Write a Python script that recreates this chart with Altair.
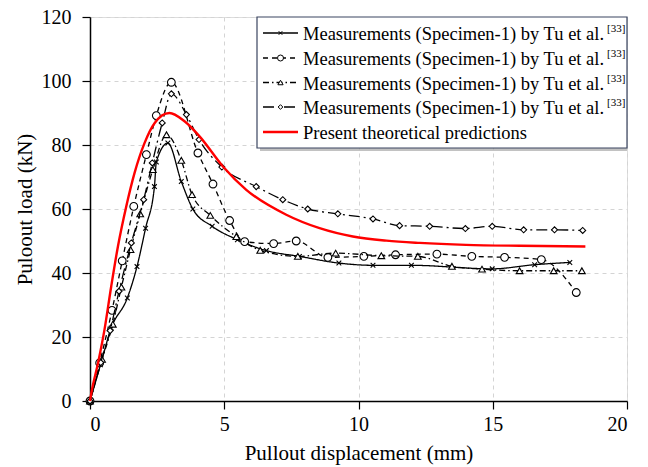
import altair as alt
import pandas as pd

# ---- data ----
s1_x = [0, 0.39, 0.79, 1.39, 1.75, 2.07, 2.4, 2.47, 2.9, 3.4, 3.83, 4.55, 5.49, 6.57, 7.8, 9.27, 10.54, 11.97, 14.98, 16.56, 17.87]
s1_y = [0, 11.3, 22.8, 32.2, 42, 54, 67, 74.7, 80.6, 68.6, 60, 54.6, 50.4, 47, 45.2, 43.1, 42.4, 42.4, 41.3, 42.6, 43.3]

s2_x = [0, 0.36, 0.82, 1.2, 1.63, 2.1, 2.47, 3.03, 4.02, 4.58, 5.2, 5.76, 6.84, 7.68, 8.86, 10.2, 11.38, 12.92, 14.22, 15.44, 16.81, 18.11]
s2_y = [0, 11.9, 28.3, 43.8, 60.8, 77, 89.2, 99.6, 77.5, 67.8, 56.4, 49.8, 49.2, 50, 44.9, 45.2, 45.7, 45.9, 45.2, 44.9, 44.2, 33.9]

s3_x = [0, 0.45, 0.85, 1.17, 1.51, 1.87, 2.34, 2.85, 3.4, 3.8, 4.48, 5.45, 6.34, 7.74, 9.15, 10.85, 12.21, 13.48, 14.6, 16.0, 17.27, 18.32]
s3_y = [0, 13, 24, 35.6, 47.3, 58.5, 72.3, 83.2, 75.2, 64.5, 58, 51.4, 47.1, 45.2, 46.2, 45.4, 45.2, 42.1, 41.2, 40.7, 40.7, 40.7]

s4_x = [0, 0.4, 0.75, 1.08, 1.54, 2.0, 2.32, 2.69, 3.03, 3.59, 4.06, 4.91, 6.19, 7.18, 8.11, 9.23, 10.54, 11.53, 12.65, 13.98, 14.98, 16.15, 17.3, 18.35]
s4_y = [0, 12, 22, 34.3, 49.4, 62.9, 74.4, 86.9, 96, 89.5, 81.7, 73.1, 67, 62.9, 60, 58.5, 56.9, 54.8, 54.6, 53.9, 54.6, 53.5, 53.5, 53.3]

th_x = [0, 0.05, 0.3, 0.54, 0.79, 1.04, 1.35, 1.66, 2.03, 2.41, 2.96, 3.52, 4.08, 4.95, 5.82, 7.31, 8.55, 9.79, 11.04, 12.28, 14.0, 16.0, 18.45]
th_y = [0, 2.5, 11.9, 22.3, 35.8, 48.3, 60.8, 71.3, 80.6, 86.9, 90, 87.4, 82.7, 73.3, 66, 58.2, 54, 51.4, 50.1, 49.4, 48.8, 48.5, 48.3]

x_ticks = [0, 5, 10, 15, 20]
y_ticks = [0, 20, 40, 60, 80, 100, 120]

meas_label = "Measurements (Specimen-1) by Tu et al."
sup_label = "[33]"
theory_label = "Present theoretical predictions"

FONT = "'Liberation Serif', 'Times New Roman', 'DejaVu Serif', serif"
W, H = 537, 384

xs = alt.Scale(domain=[0, 20], nice=False)
ys = alt.Scale(domain=[0, 120], nice=False)

X_SHAPE = "M-1,-1L1,1M-1,1L1,-1"


def series_layers(xv, yv, dash, shape, size, filled_white=True):
    df = pd.DataFrame({"x": xv, "y": yv})
    base = alt.Chart(df)
    line = base.mark_line(color="black", strokeWidth=1.3, strokeDash=dash,
                          interpolate="monotone").encode(
        x=alt.X("x:Q", scale=xs), y=alt.Y("y:Q", scale=ys))
    kw = dict(shape=shape, size=size, filled=False, stroke="black",
              strokeWidth=1.1, opacity=1)
    if filled_white:
        kw["fill"] = "white"
    pt = base.mark_point(**kw).encode(
        x=alt.X("x:Q", scale=xs), y=alt.Y("y:Q", scale=ys))
    return [line, pt]


axis_common = dict(grid=True, gridDash=[4, 4], gridColor="#d4d4d4", gridWidth=1,
                   domainColor="black", domainWidth=1.5, tickColor="black",
                   tickSize=8, tickWidth=1.2, labelFont=FONT, labelFontSize=20,
                   labelColor="black", titleFont=FONT, titleFontSize=21,
                   titleFontWeight="normal", titleColor="black")
axis_x = alt.Axis(values=x_ticks, title="Pullout displacement (mm)", titlePadding=8,
                  labelPadding=5, **axis_common)
axis_y = alt.Axis(values=y_ticks, title="Puloout load (kN)", titlePadding=6,
                  labelPadding=11, **axis_common)

grid_df = pd.DataFrame({"x": [0, 20], "y": [0, 120]})
axes_layer = alt.Chart(grid_df).mark_point(opacity=0).encode(
    x=alt.X("x:Q", scale=xs, axis=axis_x),
    y=alt.Y("y:Q", scale=ys, axis=axis_y))

layers = [axes_layer]
specs = [
    (s1_x, s1_y, [1, 0], X_SHAPE, 22, False),
    (s2_x, s2_y, [5, 4], "circle", 60, True),
    (s3_x, s3_y, [6, 3, 1.5, 3], "triangle-up", 45, True),
    (s4_x, s4_y, [11, 4, 2, 4], "diamond", 36, True),
]
for sx, sy, dash, shape, size, fw in specs:
    layers += series_layers(sx, sy, dash, shape, size, fw)

th_df = pd.DataFrame({"x": th_x, "y": th_y})
layers.append(alt.Chart(th_df).mark_line(color="#ff0000", strokeWidth=2.4,
                                          interpolate="monotone").encode(
    x=alt.X("x:Q", scale=xs), y=alt.Y("y:Q", scale=ys)))

# ---- manual legend ----
one = pd.DataFrame({"k": [0]})
LX0, LX1, LY0, LY1 = 167, 537, 0, 131
layers.append(alt.Chart(one).mark_rect(fill="#9a9a9a", opacity=0.6).encode(
    x=alt.value(LX0 + 3), x2=alt.value(LX1), y=alt.value(LY1), y2=alt.value(LY1 + 3)))
layers.append(alt.Chart(one).mark_rect(fill="white", stroke="#3a4560", strokeWidth=1.2).encode(
    x=alt.value(LX0), x2=alt.value(LX1), y=alt.value(LY0), y2=alt.value(LY1)))

row_y = [16, 41, 65.5, 90, 115]
labels = [meas_label] * 4 + [theory_label]
for i, (sx, sy, dash, shape, size, fw) in enumerate(specs):
    ry = row_y[i]
    layers.append(alt.Chart(one).mark_rule(color="black", strokeWidth=1.3, strokeDash=dash).encode(
        x=alt.value(173), x2=alt.value(208), y=alt.value(ry)))
    kw = dict(shape=shape, size=size * 0.6, filled=False, stroke="black", strokeWidth=1.0, opacity=1)
    if fw:
        kw["fill"] = "white"
    layers.append(alt.Chart(one).mark_point(**kw).encode(x=alt.value(190.5), y=alt.value(ry)))
layers.append(alt.Chart(one).mark_rule(color="#ff0000", strokeWidth=2.4).encode(
    x=alt.value(173), x2=alt.value(208), y=alt.value(row_y[4])))
for i, lab in enumerate(labels):
    layers.append(alt.Chart(pd.DataFrame({"t": [lab]})).mark_text(
        align="left", baseline="middle", font=FONT, fontSize=18.5, color="black").encode(
        x=alt.value(213), y=alt.value(row_y[i] + 1), text="t:N"))
    if i < 4:
        layers.append(alt.Chart(pd.DataFrame({"t": [sup_label]})).mark_text(
            align="left", baseline="middle", font=FONT, fontSize=11, color="black").encode(
            x=alt.value(517), y=alt.value(row_y[i] - 4), text="t:N"))

chart = alt.layer(*layers).properties(
    width=W, height=H,
    autosize=alt.AutoSizeParams(type="none"),
    padding={"left": 90, "top": 17, "right": 21, "bottom": 66},
).configure_view(stroke="black", strokeWidth=1.5).configure(background="white")

chart.save("out.html", embed_options={"renderer": "svg", "actions": False})
